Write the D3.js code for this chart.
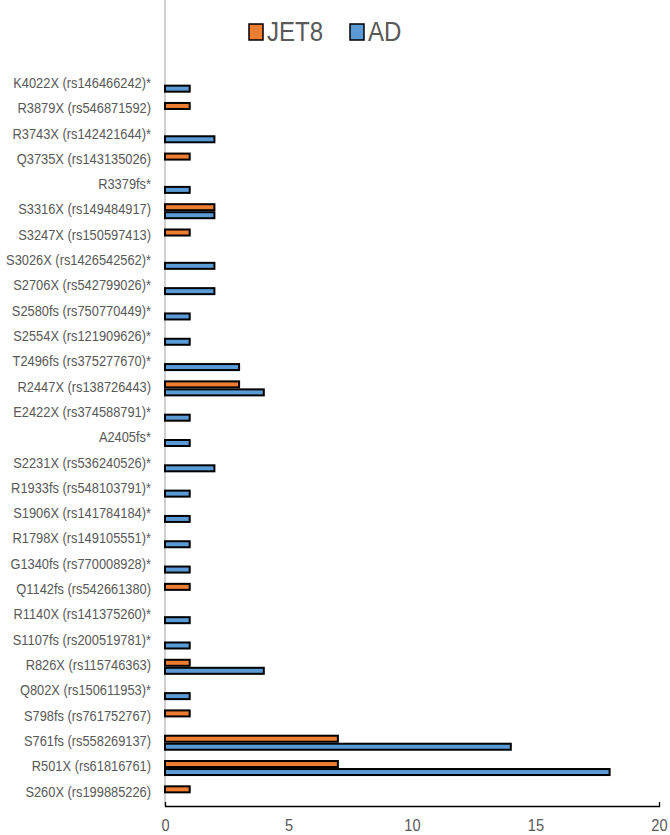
<!DOCTYPE html>
<html>
<head>
<meta charset="utf-8">
<script src="https://cdn.jsdelivr.net/npm/d3@7"></script>
<style>
  body { margin: 0; background: #fff; }
  text { font-family: "Liberation Sans", Arial, sans-serif; fill: #595959; }
</style>
</head>
<body>
<div id="contenedor"></div>
<script>
// categorias de abajo hacia arriba
var mutaciones = ["S260X (rs199885226)", "R501X (rs61816761)", "S761fs (rs558269137)", "S798fs (rs761752767)",
  "Q802X (rs150611953)*", "R826X (rs115746363)", "S1107fs (rs200519781)*", "R1140X (rs141375260)*",
  "Q1142fs (rs542661380)", "G1340fs (rs770008928)*", "R1798X (rs149105551)*", "S1906X (rs141784184)*",
  "R1933fs (rs548103791)*", "S2231X (rs536240526)*", "A2405fs*", "E2422X (rs374588791)*",
  "R2447X (rs138726443)", "T2496fs (rs375277670)*", "S2554X (rs121909626)*", "S2580fs (rs750770449)*",
  "S2706X (rs542799026)*", "S3026X (rs1426542562)*", "S3247X (rs150597413)", "S3316X (rs149484917)",
  "R3379fs*", "Q3735X (rs143135026)", "R3743X (rs142421644)*", "R3879X (rs546871592)",
  "K4022X (rs146466242)*"]
var jet8 = [1, 7, 7, 1, 0, 1, 0, 0, 1, 0, 0, 0, 0, 0, 0, 0, 3, 0, 0, 0, 0, 0, 1, 2, 0, 1, 0, 1, 0]
var ad   = [0, 18, 14, 0, 1, 4, 1, 1, 0, 1, 1, 1, 1, 2, 1, 1, 4, 3, 1, 1, 2, 2, 0, 2, 1, 0, 2, 0, 1]
var series = ["JET8", "AD"]
var colores = ["#ED7D31", "#5B9BD5"]
var ticksX = [0, 5, 10, 15, 20]

var ancho = 670
var alto = 835
var estrecho = 0.86  // el original usa una letra mas estrecha (Calibri)

var svg = d3.select("#contenedor")
  .append("svg")
  .attr("width", ancho)
  .attr("height", alto)

var filas = mutaciones.map(function(m, i) {
  return {nombre: m, valores: [jet8[i], ad[i]]}
})

// ESCALAS
var x = d3.scaleLinear().domain([0, 20]).range([165, 659])
var y = d3.scaleBand().domain(mutaciones).range([806, 72]).padding(0)
var ySub = d3.scaleBand().domain(series).range([0, y.bandwidth()]).paddingOuter(0.58).paddingInner(0)
var color = d3.scaleOrdinal().domain(series).range(colores)

// linea vertical gris del eje
svg.append("line")
  .attr("x1", x(0)).attr("x2", x(0))
  .attr("y1", 0).attr("y2", 806)
  .attr("stroke", "#BFBFBF")
  .attr("stroke-width", 1.5)

// barras
var grupos = svg.selectAll("g.fila")
  .data(filas)
  .enter()
  .append("g")
  .attr("class", "fila")
  .attr("transform", function(d) { return "translate(0," + y(d.nombre) + ")" })

grupos.selectAll("rect")
  .data(function(d) {
    return series.map(function(s, j) { return {serie: s, valor: d.valores[j]} }).filter(function(e) { return e.valor > 0 })
  })
  .enter()
  .append("rect")
  .attr("x", x(0))
  .attr("y", function(d) { return ySub(d.serie) + 1 })
  .attr("width", function(d) { return x(d.valor) - x(0) })
  .attr("height", ySub.bandwidth() - 2)
  .attr("fill", function(d) { return color(d.serie) })
  .attr("stroke", "#000")
  .attr("stroke-width", 2)

// etiquetas de categorias
var etiquetas = svg.selectAll("text.cat")
  .data(mutaciones)
  .enter()
  .append("text")
  .attr("class", "cat")
  .attr("dy", "0.35em")
  .attr("text-anchor", "end")
  .style("font-size", "15px")
  .text(function(d) { return d })

// ajustar ancho: la mas larga ocupa ~145px como en el original
var maxAncho = d3.max(etiquetas.nodes(), function(n) { return n.getComputedTextLength() })
var k = Math.min(1, 145 / maxAncho)
etiquetas.attr("transform", function(d) {
  return "translate(151," + (y(d) + y.bandwidth() / 2 - 2) + ") scale(" + k + ",1)"
})

// EJE X
var ejeX = d3.axisBottom(x)
  .tickValues(ticksX)
  .tickSizeInner(0)
  .tickSizeOuter(-4)
  .tickPadding(13)

var gx = svg.append("g")
  .attr("transform", "translate(0,806)")
  .call(ejeX)
gx.select(".domain").attr("stroke", "#000").attr("stroke-width", 1.3)
gx.selectAll("text")
  .style("font-size", "17px")
  .attr("fill", "#595959")
  .style("font-family", "\"Liberation Sans\", sans-serif")
  .attr("transform", "scale(" + estrecho + ",1)")

// LEYENDA
var leyenda = svg.selectAll("g.ley")
  .data(series)
  .enter()
  .append("g")
  .attr("class", "ley")
  .attr("transform", function(d, i) { return "translate(" + [249, 350][i] + ",24)" })

leyenda.append("rect")
  .attr("width", 14)
  .attr("height", 16)
  .attr("fill", function(d) { return color(d) })
  .attr("stroke", "#000")
  .attr("stroke-width", 1.5)

leyenda.append("text")
  .attr("transform", "translate(18,17) scale(" + estrecho + ",1)")
  .style("font-size", "28px")
  .text(function(d) { return d })
</script>
</body>
</html>
